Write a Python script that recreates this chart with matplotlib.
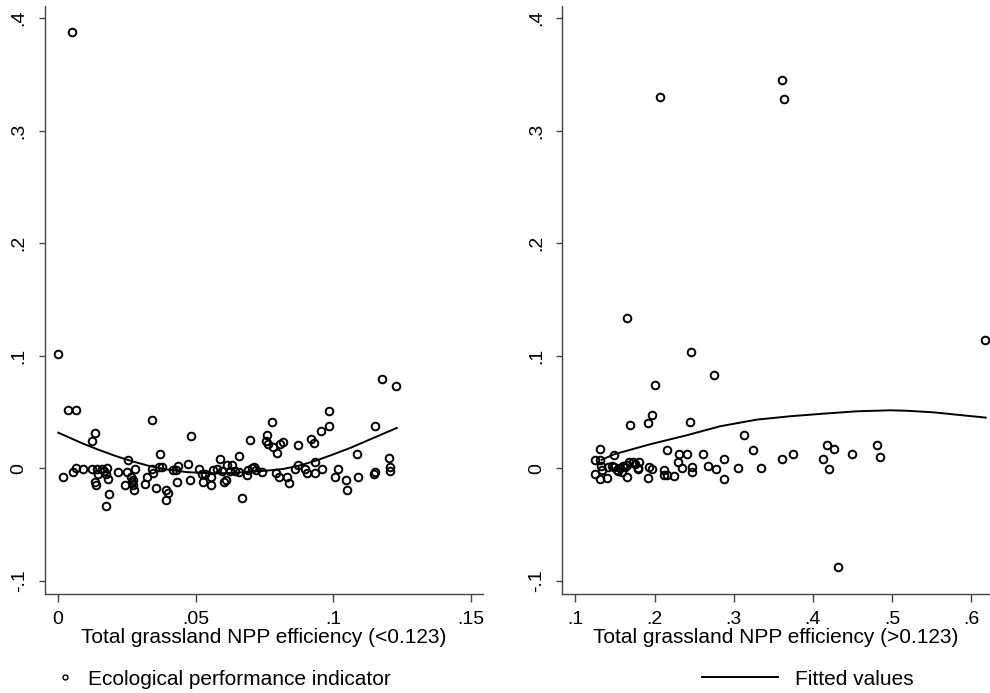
import matplotlib
matplotlib.use("Agg")
import matplotlib.pyplot as plt
from matplotlib.lines import Line2D

plt.rcParams['font.family'] = ['Liberation Sans', 'DejaVu Sans']

# left panel: NPP efficiency < 0.123
left_x = [0.0001, 0.0019, 0.0038, 0.0065, 0.0056, 0.0065, 0.0092, 0.0122, 0.0134, 0.0122,
          0.0140, 0.0134, 0.0138, 0.0146, 0.0159, 0.0167, 0.0174, 0.0179, 0.0183, 0.0186,
          0.0174, 0.0219, 0.0243, 0.0255, 0.0249, 0.0264, 0.0270, 0.0274, 0.0277, 0.0280,
          0.0274, 0.0316, 0.0322, 0.0340, 0.0346, 0.0343, 0.0356, 0.0370, 0.0368, 0.0376,
          0.0391, 0.0391, 0.0398, 0.0419, 0.0427, 0.0435, 0.0431, 0.0473, 0.0479, 0.0482,
          0.0513, 0.0522, 0.0525, 0.0534, 0.0554, 0.0556, 0.0564, 0.0576, 0.0588, 0.0594,
          0.0603, 0.0609, 0.0612, 0.0625, 0.0633, 0.0643, 0.0657, 0.0658, 0.0667, 0.0687,
          0.0691, 0.0697, 0.0706, 0.0712, 0.0718, 0.0740, 0.0758, 0.0754, 0.0761, 0.0776,
          0.0782, 0.0796, 0.0806, 0.0816, 0.0792, 0.0804, 0.0830, 0.0840, 0.0861, 0.0870,
          0.0873, 0.0897, 0.0903, 0.0917, 0.0930, 0.0933, 0.0933, 0.0954, 0.0960, 0.0985,
          0.0985, 0.1006, 0.1018, 0.1045, 0.1048, 0.1084, 0.1088, 0.1147, 0.1151, 0.1151,
          0.1175, 0.1226, 0.1202, 0.1206, 0.1206, 0.0051]
left_y = [0.1020, -0.0077, 0.0522, 0.0522, -0.0033, 0.0003, -0.0009, 0.0240, 0.0317, -0.0003,
          -0.0003, -0.0122, -0.0145, -0.0047, -0.0003, -0.0024, -0.0053, 0.0003, -0.0092, -0.0231,
          -0.0338, -0.0033, -0.0151, 0.0071, -0.0033, -0.0077, -0.0122, -0.0151, -0.0190, -0.0003,
          -0.0101, -0.0136, -0.0077, -0.0003, -0.0042, 0.0433, -0.0172, 0.0125, 0.0012, 0.0012,
          -0.0196, -0.0279, -0.0219, -0.0018, -0.0018, 0.0018, -0.0122, 0.0036, -0.0107, 0.0288,
          -0.0003, -0.0047, -0.0122, -0.0047, -0.0077, -0.0145, -0.0018, -0.0003, 0.0080, -0.0024,
          -0.0122, -0.0107, 0.0033, -0.0024, 0.0027, -0.0024, 0.0107, -0.0033, -0.0261, -0.0062,
          -0.0018, 0.0255, 0.0003, 0.0012, -0.0012, -0.0033, 0.0294, 0.0243, 0.0214, 0.0412,
          0.0190, 0.0136, 0.0214, 0.0234, -0.0042, -0.0077, -0.0077, -0.0130, -0.0003, 0.0211,
          0.0027, -0.0003, -0.0042, 0.0258, 0.0228, 0.0056, -0.0042, 0.0332, -0.0003, 0.0374,
          0.0510, -0.0077, -0.0003, -0.0107, -0.0196, 0.0125, -0.0077, -0.0053, -0.0033, 0.0374,
          0.0798, 0.0730, 0.0095, 0.0012, -0.0027, 0.3880]

left_fit_x = [0.0001, 0.0092, 0.0153, 0.0213, 0.0274, 0.0334, 0.0395, 0.0467, 0.0540, 0.0612,
              0.0685, 0.0758, 0.0818, 0.0879, 0.0939, 0.1000, 0.1060, 0.1121, 0.1181, 0.1230]
left_fit_y = [0.0317, 0.0219, 0.0160, 0.0107, 0.0060, 0.0020, -0.0009, -0.0033, -0.0042, -0.0042,
              -0.0033, -0.0020, -0.0005, 0.0027, 0.0071, 0.0125, 0.0181, 0.0245, 0.0308, 0.0359]

# right panel: NPP efficiency > 0.123
right_x = [0.1653, 0.2461, 0.2756, 0.2006, 0.1968, 0.1922, 0.1691, 0.2448, 0.3130, 0.1312,
           0.1489, 0.2154, 0.2313, 0.2406, 0.2608, 0.2882, 0.3239, 0.3610, 0.3744, 0.4132,
           0.4182, 0.4266, 0.4199, 0.4498, 0.4814, 0.4852, 0.4321, 0.6169, 0.3058, 0.3349,
           0.2882, 0.2772, 0.2680, 0.2469, 0.2478, 0.2351, 0.2292, 0.2250, 0.2120, 0.2154,
           0.2125, 0.1922, 0.1926, 0.1964, 0.1787, 0.1804, 0.1753, 0.1682, 0.1657, 0.1249,
           0.1249, 0.1312, 0.1312, 0.1324, 0.1333, 0.1396, 0.1417, 0.1459, 0.1489, 0.1522,
           0.1543, 0.1564, 0.1606, 0.1628, 0.1585, 0.1649, 0.1733, 0.1796, 0.2069, 0.3606,
           0.3635]
right_y = [0.1340, 0.1032, 0.0827, 0.0741, 0.0472, 0.0403, 0.0383, 0.0412, 0.0297, 0.0172,
           0.0116, 0.0160, 0.0125, 0.0130, 0.0130, 0.0083, 0.0160, 0.0083, 0.0125, 0.0083,
           0.0211, 0.0169, -0.0003, 0.0125, 0.0211, 0.0104, -0.0872, 0.1139, 0.0006, 0.0006,
           -0.0098, -0.0003, 0.0018, 0.0012, -0.0033, 0.0006, 0.0056, -0.0068, -0.0062, -0.0062,
           -0.0012, -0.0086, 0.0012, -0.0009, 0.0003, 0.0056, 0.0042, 0.0056, -0.0077, 0.0071,
           -0.0047, 0.0077, -0.0092, 0.0021, -0.0018, -0.0086, 0.0012, 0.0018, 0.0012, -0.0018,
           -0.0024, 0.0006, 0.0018, 0.0012, -0.0033, 0.0033, 0.0056, -0.0003, 0.3295, 0.3446,
           0.3280]

right_fit_x = [0.1333, 0.1490, 0.1943, 0.2406, 0.2827, 0.3290, 0.3711, 0.4132, 0.4553, 0.4974,
               0.5184, 0.5521, 0.5816, 0.6182]
right_fit_y = [0.0077, 0.0125, 0.0214, 0.0294, 0.0374, 0.0433, 0.0463, 0.0486, 0.0507, 0.0516,
               0.0512, 0.0498, 0.0477, 0.0451]

y_ticks = [-0.1, 0, 0.1, 0.2, 0.3, 0.4]
y_labels = ['-.1', '0', '.1', '.2', '.3', '.4']
left_ticks = [0, 0.05, 0.1, 0.15]
left_labels = ['0', '.05', '.1', '.15']
right_ticks = [0.1, 0.2, 0.3, 0.4, 0.5, 0.6]
right_labels = ['.1', '.2', '.3', '.4', '.5', '.6']

fig = plt.figure(figsize=(9.9, 6.93), dpi=100)
ax1 = fig.add_axes([0.0452, 0.1433, 0.4427, 0.8485])
ax2 = fig.add_axes([0.568, 0.1433, 0.432, 0.8485])


def style(ax, xt, xl, xlabel, xlim):
    ax.set_xlim(xlim)
    ax.set_ylim(-0.1113, 0.411)
    ax.set_xticks(xt)
    ax.set_xticklabels(xl)
    ax.set_yticks(y_ticks)
    ax.set_yticklabels(y_labels, rotation=90, va='center')
    for s in ['top', 'right']:
        ax.spines[s].set_visible(False)
    for s in ['left', 'bottom']:
        ax.spines[s].set_color('#444444')
        ax.spines[s].set_linewidth(1.0)
    ax.tick_params(axis='x', length=5.8, width=1.0, color='#444444', labelsize=14, pad=6.5)
    ax.tick_params(axis='y', length=4.3, width=1.0, color='#444444', labelsize=14, pad=8)
    ax.set_xlabel(xlabel, fontsize=15, labelpad=0)


ax1.plot(left_x, left_y, 'o', ms=5.5, mfc='none', mec='black', mew=1.4, clip_on=False)
ax1.plot(left_fit_x, left_fit_y, color='black', lw=1.4)
style(ax1, left_ticks, left_labels, 'Total grassland NPP efficiency (<0.123)', (-0.0048, 0.1543))

ax2.plot(right_x, right_y, 'o', ms=5.5, mfc='none', mec='black', mew=1.4, clip_on=False)
ax2.plot(right_fit_x, right_fit_y, color='black', lw=1.4)
style(ax2, right_ticks, right_labels, 'Total grassland NPP efficiency (>0.123)', (0.0836, 0.6236))

h1 = Line2D([], [], ls='none', marker='o', ms=3.5, mfc='none', mec='black', mew=1.0)
h2 = Line2D([], [], color='black', lw=1.4)
fig.legend([h1], ['Ecological performance indicator'], loc='center left',
           bbox_to_anchor=(0.0552, 0.0202), frameon=False, fontsize=15,
           handlelength=1.0, handletextpad=0.6, borderpad=0, borderaxespad=0)
fig.legend([h2], ['Fitted values'], loc='center left',
           bbox_to_anchor=(0.7088, 0.0202), frameon=False, fontsize=15,
           handlelength=3.65, handletextpad=0.85, borderpad=0, borderaxespad=0)

fig.savefig('out.png', dpi=100)
plt.close(fig)
